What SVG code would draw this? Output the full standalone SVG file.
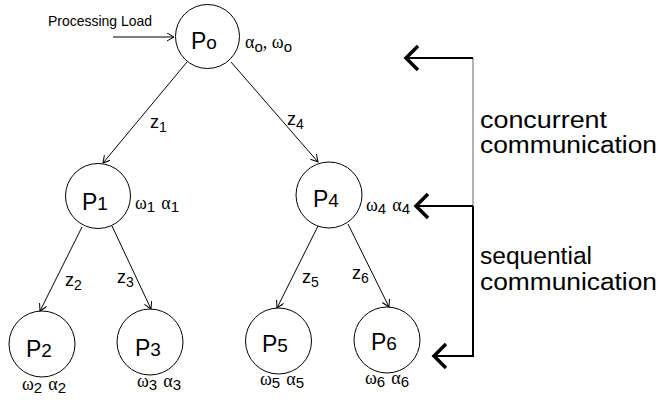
<svg xmlns="http://www.w3.org/2000/svg" width="660" height="400" viewBox="0 0 660 400">
<style>
.node{fill:#fff;stroke:#000;stroke-width:1}
.edge{fill:none;stroke:#000;stroke-width:1}
.pl{font-family:"Liberation Sans",Arial,sans-serif;font-size:23px;fill:#000}
.pd{font-size:19px}
.gr{font-family:"Liberation Serif","Times New Roman",serif;font-size:18px;fill:#000}
.sb{font-family:"Liberation Sans",Arial,sans-serif;font-size:15px}
.zl{font-family:"Liberation Sans",Arial,sans-serif;font-size:18px;fill:#000}
.zs{font-size:14px}
.big{font-family:"Liberation Sans",Arial,sans-serif;font-size:23px;fill:#000}
.chev{fill:none;stroke:#000;stroke-width:3.5;stroke-linecap:butt;stroke-linejoin:miter}
</style>
<defs>
<marker id="ah" markerWidth="10" markerHeight="10" refX="7" refY="4" orient="auto" markerUnits="userSpaceOnUse">
<path d="M0,0 L7,4 L0,8" fill="none" stroke="#000" stroke-width="1"/>
</marker>
</defs>
<g id="connectors">
<line class="edge" x1="113" y1="37" x2="174" y2="37" marker-end="url(#ah)"/>
<line class="edge" x1="187" y1="62" x2="103" y2="163" marker-end="url(#ah)"/>
<line class="edge" x1="231" y1="62" x2="318" y2="162" marker-end="url(#ah)"/>
<line class="edge" x1="82" y1="227" x2="40" y2="311" marker-end="url(#ah)"/>
<line class="edge" x1="112" y1="226" x2="151" y2="309" marker-end="url(#ah)"/>
<line class="edge" x1="318" y1="226" x2="277" y2="308" marker-end="url(#ah)"/>
<line class="edge" x1="348" y1="224" x2="389" y2="307" marker-end="url(#ah)"/>
</g>
<g id="bracket">
<line x1="473" y1="58" x2="473" y2="206" stroke="#666" stroke-width="1"/>
<line x1="473" y1="206" x2="473" y2="357" stroke="#000" stroke-width="2"/>
<line x1="473" y1="58" x2="407" y2="58" stroke="#000" stroke-width="2"/>
<line x1="473" y1="206" x2="417" y2="206" stroke="#000" stroke-width="2"/>
<line x1="474" y1="356" x2="435" y2="356" stroke="#000" stroke-width="2"/>
<path class="chev" d="M418,46 L406,58 L418,70"/>
<path class="chev" d="M428,194 L416,206 L428,218"/>
<path class="chev" d="M446,344 L434,356 L446,368"/>
</g>
<g id="processing-load">
<text x="48" y="26" font-family="Liberation Sans, Arial, sans-serif" font-size="14.5" textLength="104" lengthAdjust="spacingAndGlyphs">Processing Load</text>
</g>
<g id="P0">
<circle class="node" cx="207.5" cy="36.5" r="32"/>
<text class="pl" x="191" y="49">P<tspan class="pd">o</tspan></text>
<text class="gr" x="245" y="48">α<tspan class="sb" dy="4">o</tspan><tspan dy="-4">, ω</tspan><tspan class="sb" dy="4">o</tspan></text>
</g>
<g id="P1">
<circle class="node" cx="98" cy="196" r="32.5"/>
<text class="pl" x="82" y="210">P<tspan class="pd">1</tspan></text>
<text class="gr" x="135" y="209">ω<tspan class="sb" dy="3">1</tspan><tspan dy="-3" dx="6">α</tspan><tspan class="sb" dy="3">1</tspan></text>
</g>
<g id="P4">
<circle class="node" cx="329" cy="195" r="33"/>
<text class="pl" x="313" y="207">P<tspan class="pd">4</tspan></text>
<text class="gr" x="366" y="211">ω<tspan class="sb" dy="3">4</tspan><tspan dy="-3" dx="6">α</tspan><tspan class="sb" dy="3">4</tspan></text>
</g>
<g id="P2">
<circle class="node" cx="42" cy="344" r="33"/>
<text class="pl" x="26" y="357">P<tspan class="pd">2</tspan></text>
<text class="gr" x="22" y="390">ω<tspan class="sb" dy="3">2</tspan><tspan dy="-3" dx="6">α</tspan><tspan class="sb" dy="3">2</tspan></text>
</g>
<g id="P3">
<circle class="node" cx="150" cy="342" r="33"/>
<text class="pl" x="135" y="356">P<tspan class="pd">3</tspan></text>
<text class="gr" x="137" y="387">ω<tspan class="sb" dy="3">3</tspan><tspan dy="-3" dx="6">α</tspan><tspan class="sb" dy="3">3</tspan></text>
</g>
<g id="P5">
<circle class="node" cx="278.5" cy="341" r="33"/>
<text class="pl" x="262" y="352">P<tspan class="pd">5</tspan></text>
<text class="gr" x="260" y="385">ω<tspan class="sb" dy="3">5</tspan><tspan dy="-3" dx="6">α</tspan><tspan class="sb" dy="3">5</tspan></text>
</g>
<g id="P6">
<circle class="node" cx="387" cy="340" r="33"/>
<text class="pl" x="371" y="350">P<tspan class="pd">6</tspan></text>
<text class="gr" x="365" y="384">ω<tspan class="sb" dy="3">6</tspan><tspan dy="-3" dx="6">α</tspan><tspan class="sb" dy="3">6</tspan></text>
</g>
<g id="edge-labels">
<text class="zl" x="150" y="128">z<tspan class="zs" dy="4">1</tspan></text>
<text class="zl" x="287" y="125">z<tspan class="zs" dy="4">4</tspan></text>
<text class="zl" x="65" y="286">z<tspan class="zs" dy="4">2</tspan></text>
<text class="zl" x="117" y="283">z<tspan class="zs" dy="4">3</tspan></text>
<text class="zl" x="302" y="283">z<tspan class="zs" dy="4">5</tspan></text>
<text class="zl" x="352" y="279">z<tspan class="zs" dy="4">6</tspan></text>
</g>
<g id="annotations">
<text class="big" x="480" y="128" textLength="127" lengthAdjust="spacingAndGlyphs">concurrent</text>
<text class="big" x="480" y="153" textLength="177" lengthAdjust="spacingAndGlyphs">communication</text>
<text class="big" x="480" y="264" textLength="112" lengthAdjust="spacingAndGlyphs">sequential</text>
<text class="big" x="480" y="290" textLength="177" lengthAdjust="spacingAndGlyphs">communication</text>
</g>
</svg>
